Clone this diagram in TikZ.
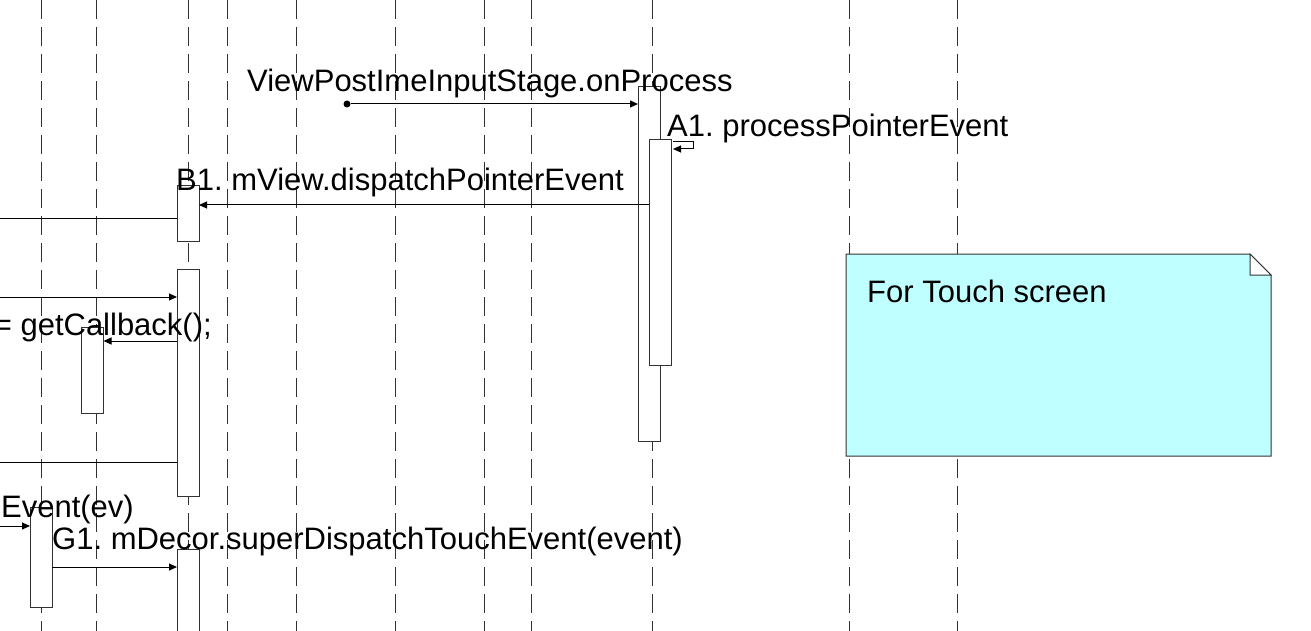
\documentclass[tikz,border=0pt]{standalone}
\usepackage{fontspec}
\setmainfont{Liberation Sans}
\usetikzlibrary{arrows.meta}
\definecolor{notecyan}{RGB}{192,255,255}
\definecolor{edge}{RGB}{50,50,50}
\frenchspacing
\begin{document}
\begin{tikzpicture}[x=1pt,y=-1pt,
  life/.style={draw=edge, line width=1pt, dash pattern=on 19pt off 8pt},
  act/.style={draw=edge, fill=white, line width=1pt, minimum width=22pt, inner sep=0pt, outer sep=0pt},
  msg/.style={draw=black, line width=1pt, -{Triangle[length=8pt,width=7pt]}},
  ret/.style={draw=black, line width=1pt},
  lbl/.style={font=\fontsize{31}{36}\selectfont, inner sep=0pt, text=black},
  dotnode/.style={circle, fill=black, minimum size=7pt, inner sep=0pt}
]
\useasboundingbox (0,0) rectangle (1311,631);
% lifelines
\foreach \x in {41,96,188,227,296,395,484,531,652,849,957}
  \draw[life] (\x,0) -- (\x,640);
% note
\coordinate (n1) at (846,254);
\coordinate (n2) at (1250,254);
\coordinate (n3) at (1271,275);
\coordinate (n4) at (1271,456);
\coordinate (n5) at (846,456);
\coordinate (n6) at (1250,275);
\filldraw[fill=notecyan, draw=edge, line width=1pt] (n1) -- (n2) -- (n3) -- (n4) -- (n5) -- cycle;
\filldraw[fill=white, draw=edge, line width=1pt] (n2) -- (n6) -- (n3) -- cycle;
\node[lbl, anchor=base west] (notetext) at (867,302) {For Touch screen};
% activation boxes
\node[act, minimum height=354pt] (P1) at (649,264) {};
\node[act, minimum height=225pt] (P2) at (660,252.5) {};
\node[act, minimum height=55pt] (V1) at (188,213.5) {};
\node[act, minimum height=227pt] (V2) at (188,382.5) {};
\node[act, minimum height=100pt] (V3) at (188,599) {};
\node[act, minimum height=86pt] (C1) at (92.5,370) {};
\node[act, minimum height=100pt] (D1) at (41,557) {};
% start dot
\node[dotnode] (s0) at (347,104) {};
% free ends at the left border
\coordinate (L1) at (-10,218);
\coordinate (L2) at (-10,297);
\coordinate (L3) at (-10,462);
\coordinate (L4) at (-10,526);
% messages
\draw[msg] (s0) -- (P1.west |- s0);
\coordinate (a1) at (673,142);
\coordinate (a2) at (693,142);
\coordinate (a3) at (693,149);
\coordinate (a4) at (673,149);
\draw[msg] (a1) -- (a2) -- (a3) -- (a4);
\draw[msg] (P2.west |- 0,205) -- (V1.east |- 0,205);
\draw[ret] (L1) -- (V1.west |- L1);
\draw[msg] (L2) -- (V2.west |- L2);
\draw[msg] (V2.west |- 0,341) -- (C1.east |- 0,341);
\draw[ret] (L3) -- (V2.west |- L3);
\draw[msg] (L4) -- (D1.west |- L4);
\draw[msg] (D1.east |- 0,567) -- (V3.west |- 0,567);
% labels
\node[lbl, anchor=base west] (t0) at (247,92) {ViewPostImeInputStage.onProcess};
\node[lbl, anchor=base west] (tA1) at (667,137) {A1. processPointerEvent};
\node[lbl, anchor=base west] (tB1) at (176,191) {B1. mView.dispatchPointerEvent};
\node[lbl, anchor=base east] (tcb) at (212,335) {= getCallback();};
\node[lbl, anchor=base east] (tev) at (134,517) {nEvent(ev)};
\node[lbl, anchor=base west] (tG1) at (52,549) {G1. mDecor.superDispatchTouchEvent(event)};
\end{tikzpicture}
\end{document}
